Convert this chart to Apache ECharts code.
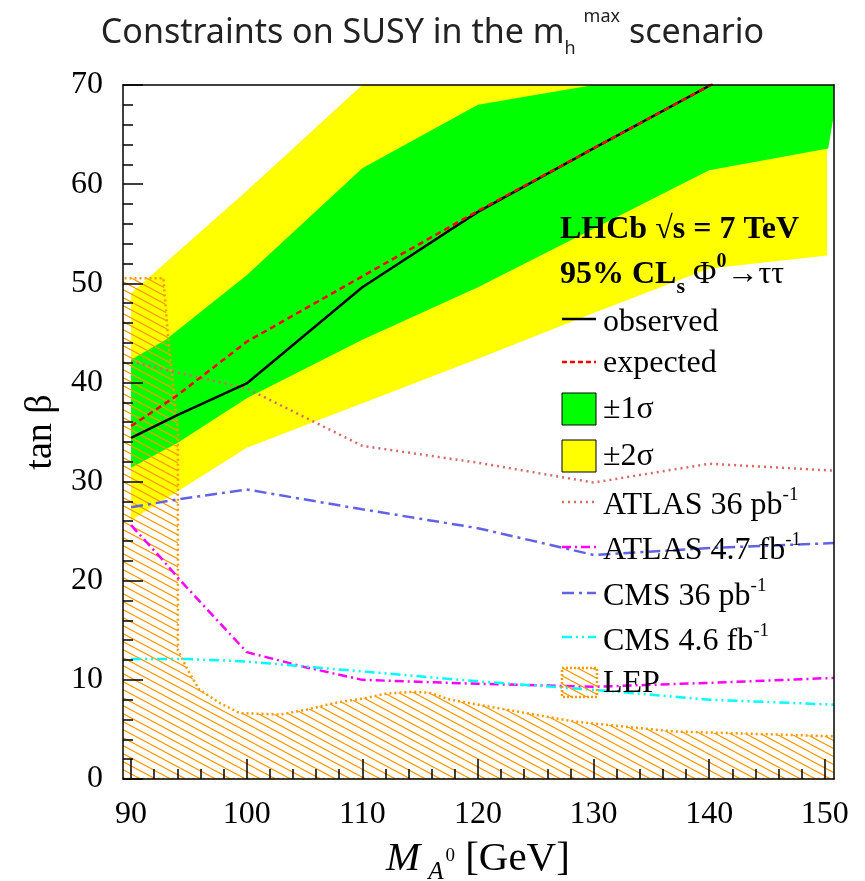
<!DOCTYPE html>
<html>
<head>
<meta charset="utf-8">
<script src="https://cdn.jsdelivr.net/npm/echarts@6/dist/echarts.min.js"></script>
<style>
  html, body { margin: 0; padding: 0; background: #fff; }
  #chart { width: 865px; height: 881px; }
</style>
</head>
<body>
<div id="chart"></div>
<script>
// values: x = M_A0 [GeV], y = tan beta
const observed = [[90, 34.4], [94, 36.7], [100, 39.9], [110, 49.6], [120, 57.2], [130, 63.6], [140.3, 70.1]];
const expected = [[90, 35.6], [94, 38.7], [100, 44.1], [110, 50.7], [120, 57.3], [130, 63.6], [140.3, 70.1]];
// +-1 sigma band
const sigma1Upper = [[90, 42.3], [93, 44.3], [100, 50.8], [110, 61.6], [120, 68], [130, 70], [151, 70]];
const sigma1Lower = [[90, 31.4], [94, 33.9], [100, 38.4], [110, 44.3], [120, 49.6], [140, 61.4], [150.3, 63.6], [151, 68.5]];
// +-2 sigma band
const sigma2Upper = [[90, 49], [100, 59.3], [110, 70], [151, 70]];
const sigma2Lower = [[90, 26.1], [94, 29], [100, 33.4], [110, 37.9], [120, 42.4], [130, 47], [140, 51.5], [150.2, 52.8], [150.2, 63.6], [151, 68.5]];
// other experiments
const atlas36 = [[90, 42.1], [95.5, 40.6], [100, 39.4], [110, 33.6], [120, 31.9], [130, 29.9], [140, 31.8], [150.8, 31.1]];
const atlas47 = [[90, 25.6], [92.5, 22.4], [94.2, 20.1], [100, 12.8], [105, 11.3], [110, 10.0], [120, 9.6], [130, 9.3], [140, 9.7], [150.8, 10.2]];
const cms36 = [[90, 27.4], [94, 28.2], [100, 29.2], [110, 27.2], [120, 25.3], [130, 22.6], [140, 23.3], [150.8, 23.8]];
const cms46 = [[90, 12.1], [95, 12.1], [100, 11.85], [110, 10.85], [120, 9.85], [130, 9.0], [140, 8.0], [150.8, 7.5]];
// LEP excluded region (closed outline)
const lep = [[89, 50.5], [92.8, 50.5], [93.2, 44.6], [93.5, 41.3], [94.05, 35], [94.05, 13], [94.9, 11], [95.9, 9],
  [97.7, 7.65], [99.4, 6.65], [102.9, 6.5], [105.2, 7.0], [107.5, 7.65], [110, 8.1], [112, 8.6], [114.4, 8.8],
  [115.8, 8.7], [117.6, 8.0], [128.3, 5.8], [136.9, 4.8], [151, 4.3], [151, 0], [89, 0]];

const xMin = 89.3, xMax = 150.8;
const xTicks = [90, 150];   // first / last labelled tick
const yMin = 0, yMax = 70;

const serif = 'Liberation Serif';
const sans = 'Noto Sans';
const W = 865;
const gridL = 123, gridR = 31, gridT = 85, gridB = 102;
const pxPerX = (W - gridL - gridR) / (xMax - xMin);

function hatch() {
  const c = document.createElement('canvas');
  c.width = 15; c.height = 8;
  const g = c.getContext('2d');
  g.strokeStyle = '#ff9900';
  g.lineWidth = 1.2;
  for (let k = -1; k <= 1; k++) {
    g.beginPath(); g.moveTo(0, 8 * k); g.lineTo(15, 8 + 8 * k); g.stroke();
  }
  return c;
}
const hatchFill = { image: hatch(), repeat: 'repeat' };

function band(upper, lower) {
  return upper.concat(lower.slice().reverse());
}

function polygonSeries(name, points, style) {
  return {
    name, type: 'custom', xAxisIndex: 0, yAxisIndex: 0, clip: true, silent: true,
    data: points,
    renderItem: (params, api) => {
      if (params.dataIndex !== 0) return null;
      return { type: 'polygon', shape: { points: points.map(p => api.coord(p)) }, style };
    }
  };
}

function lineSeries(name, data, color, type, width) {
  return {
    name, type: 'line', data, xAxisIndex: 0, yAxisIndex: 0, symbol: 'none', clip: true, silent: true,
    lineStyle: { color, width: width || 2.5, type }
  };
}

const atlas36Col = '#d86868', atlas47Col = '#ff00ff', cms36Col = '#6262e4', cms46Col = '#00ffff', lepCol = '#ff9900';
const dotted = [2, 4], dashDot = [9, 4, 2, 4], longDashDot = [12, 5, 3, 5], dashDotDot = [10, 4, 2, 4, 2, 4];

const chart = echarts.init(document.getElementById('chart'), null, { renderer: 'canvas' });

// legend, drawn inside the frame
const lx = 562, tx = 603;
const legendFont = { fontFamily: serif, fontSize: 32, fill: '#000' };
function legendText(y, text, rich) {
  return { type: 'text', left: tx, top: y - 14, z: 100,
    style: Object.assign({ text, rich: rich || {} }, legendFont) };
}
function legendLine(y, color, dash, width) {
  return { type: 'line', z: 100, shape: { x1: lx, y1: y, x2: lx + 34, y2: y },
    style: { stroke: color, lineWidth: width || 2.5, lineDash: dash } };
}
const supRich = {
  s: { fontFamily: serif, fontSize: 19, verticalAlign: 'top', lineHeight: 40 },
  n: { fontFamily: serif, fontSize: 32, lineHeight: 40 }
};

const graphic = [
  { type: 'text', left: lx - 2, top: 214, z: 100,
    style: { text: 'LHCb \u221As = 7 TeV', fontFamily: serif, fontSize: 32, fontWeight: 'bold', fill: '#000' } },
  { type: 'text', left: lx - 2, top: 252, z: 100,
    style: {
      text: '{b|95% CL}{sub|s}{n| \u03A6}{sup|0}{n|\u2192\u03C4\u03C4}',
      rich: {
        b: { fontFamily: serif, fontSize: 32, fontWeight: 'bold', lineHeight: 46 },
        n: { fontFamily: serif, fontSize: 32, lineHeight: 46 },
        sub: { fontFamily: serif, fontSize: 22, fontWeight: 'bold', verticalAlign: 'bottom', lineHeight: 22 },
        sup: { fontFamily: serif, fontSize: 20, fontWeight: 'bold', verticalAlign: 'top', lineHeight: 22 }
      }
    } },
  legendLine(319, '#000'),
  legendText(321, 'observed'),
  legendLine(362, '#ff0000', [5, 3]),
  legendText(362, 'expected'),
  { type: 'rect', z: 100, shape: { x: lx, y: 393, width: 34, height: 32 }, style: { fill: '#00ff00', stroke: '#000', lineWidth: 1 } },
  legendText(408, '\u00B11\u03C3'),
  { type: 'rect', z: 100, shape: { x: lx, y: 440, width: 34, height: 32 }, style: { fill: '#ffff00', stroke: '#000', lineWidth: 1 } },
  legendText(455, '\u00B12\u03C3'),
  legendLine(502, atlas36Col, dotted),
  legendText(500, '{n|ATLAS 36 pb}{s|-1}', supRich),
  legendLine(547, atlas47Col, dashDot),
  legendText(545, '{n|ATLAS 4.7 fb}{s|-1}', supRich),
  legendLine(593, cms36Col, longDashDot),
  legendText(591, '{n|CMS 36 pb}{s|-1}', supRich),
  legendLine(637, cms46Col, dashDotDot),
  legendText(636, '{n|CMS 4.6 fb}{s|-1}', supRich),
  { type: 'rect', z: 100, shape: { x: lx, y: 668, width: 35, height: 29 },
    style: { fill: hatchFill, stroke: lepCol, lineWidth: 2.5, lineDash: [2, 2] } },
  legendText(682, 'LEP')
];

const option = {
  backgroundColor: '#fff',
  animation: false,
  title: {
    text: '{t|Constraints on SUSY in the m}{sub|h}{sup|max}{t| scenario}',
    left: 'center', top: 3,
    textStyle: {
      fontWeight: 'normal',
      rich: {
        t: { fontFamily: sans, fontSize: 34, fontWeight: 'normal', color: '#222', lineHeight: 50 },
        sub: { fontFamily: sans, fontSize: 18, fontWeight: 'normal', color: '#222', verticalAlign: 'bottom', lineHeight: 18 },
        sup: { fontFamily: sans, fontSize: 18, fontWeight: 'normal', color: '#222', verticalAlign: 'top', lineHeight: 18, padding: [0, 0, 0, 8] }
      }
    }
  },
  grid: [
    { left: gridL, right: gridR, top: gridT, bottom: gridB, containLabel: false, outerBoundsMode: 'none' },
    { left: gridL + (xTicks[0] - xMin) * pxPerX, right: gridR + (xMax - xTicks[1]) * pxPerX, top: gridT, bottom: gridB,
      containLabel: false, outerBoundsMode: 'none' }
  ],
  xAxis: [
    { type: 'value', gridIndex: 0, min: xMin, max: xMax, z: 10,
      axisLine: { show: true, onZero: false, lineStyle: { color: '#000', width: 1.5 } },
      axisTick: { show: false }, axisLabel: { show: false }, splitLine: { show: false } },
    { type: 'value', gridIndex: 1, min: xTicks[0], max: xTicks[1], interval: 10, z: 10,
      axisLine: { show: false },
      axisTick: { show: true, inside: true, length: 20, lineStyle: { color: '#000', width: 1.5 } },
      minorTick: { show: true, splitNumber: 5, length: 10, lineStyle: { color: '#000', width: 1.5 } },
      axisLabel: { fontFamily: serif, fontSize: 32, color: '#000', margin: 20 },
      splitLine: { show: false },
      name: '{m|M}{a|A}{z|0}{n| [GeV]}', nameLocation: 'middle', nameGap: 54,
      nameTextStyle: {
        rich: {
          m: { fontFamily: serif, fontSize: 41, fontStyle: 'italic', color: '#000', lineHeight: 52 },
          a: { fontFamily: serif, fontSize: 25, fontStyle: 'italic', color: '#000', verticalAlign: 'bottom', lineHeight: 24, padding: [0, 0, 0, 8] },
          z: { fontFamily: serif, fontSize: 19, color: '#000', lineHeight: 52, padding: [0, 0, 6, 2] },
          n: { fontFamily: serif, fontSize: 41, color: '#000', lineHeight: 52 }
        }
      } },
    { type: 'value', gridIndex: 0, position: 'top', min: xMin, max: xMax, z: 10,
      axisLine: { show: true, onZero: false, lineStyle: { color: '#000', width: 1.5 } },
      axisTick: { show: false }, axisLabel: { show: false }, splitLine: { show: false } }
  ],
  yAxis: [
    { type: 'value', gridIndex: 0, min: yMin, max: yMax, interval: 10, z: 10,
      axisLine: { show: true, onZero: false, lineStyle: { color: '#000', width: 1.5 } },
      axisTick: { show: true, inside: true, length: 20, lineStyle: { color: '#000', width: 1.5 } },
      minorTick: { show: true, splitNumber: 5, length: 10, lineStyle: { color: '#000', width: 1.5 } },
      axisLabel: { fontFamily: serif, fontSize: 32, color: '#000', margin: 20 },
      splitLine: { show: false },
      name: 'tan \u03B2', nameLocation: 'middle', nameRotate: 90, nameGap: 62,
      nameTextStyle: { fontFamily: serif, fontSize: 38, color: '#000' } },
    { type: 'value', gridIndex: 1, min: yMin, max: yMax, show: false },
    { type: 'value', gridIndex: 0, position: 'right', min: yMin, max: yMax, z: 10,
      axisLine: { show: true, onZero: false, lineStyle: { color: '#000', width: 1.5 } },
      axisTick: { show: false }, axisLabel: { show: false }, splitLine: { show: false } }
  ],
  graphic,
  series: [
    polygonSeries('\u00B12\u03C3', band(sigma2Upper, sigma2Lower), { fill: '#ffff00' }),
    polygonSeries('\u00B11\u03C3', band(sigma1Upper, sigma1Lower), { fill: '#00ff00' }),
    polygonSeries('LEP', lep, { fill: hatchFill, stroke: lepCol, lineWidth: 2.5, lineDash: [2, 3] }),
    lineSeries('ATLAS 36 pb-1', atlas36, atlas36Col, dotted),
    lineSeries('ATLAS 4.7 fb-1', atlas47, atlas47Col, dashDot),
    lineSeries('CMS 36 pb-1', cms36, cms36Col, longDashDot),
    lineSeries('CMS 4.6 fb-1', cms46, cms46Col, dashDotDot),
    lineSeries('observed', observed, '#000', 'solid'),
    lineSeries('expected', expected, '#ff0000', [6, 4])
  ]
};

chart.setOption(option);
</script>
</body>
</html>
